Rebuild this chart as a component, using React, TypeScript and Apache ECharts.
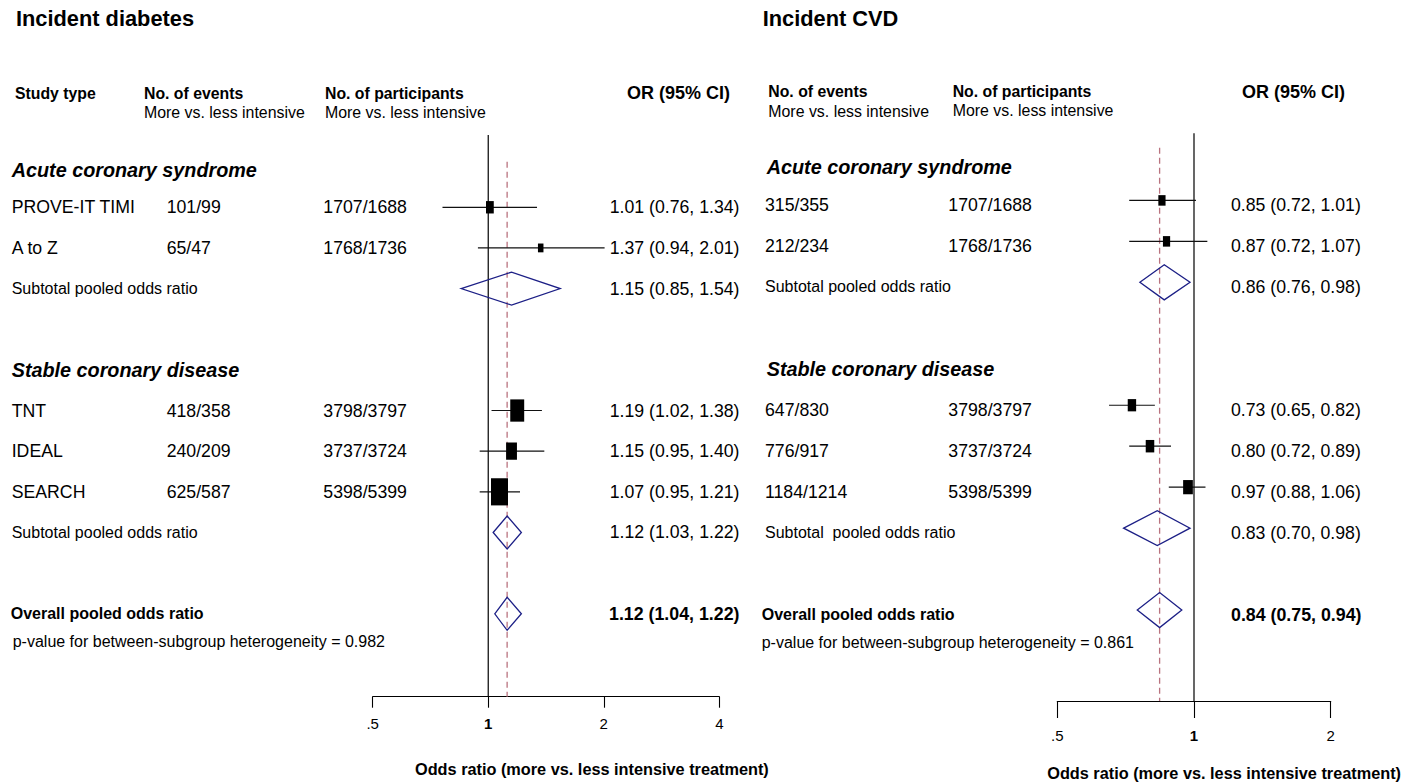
import React, { useEffect, useRef } from "react";
import * as echarts from "echarts";

const FONT = '"Liberation Sans", Arial, Helvetica, sans-serif';

// ---------- data ----------
const studyNames = ["PROVE-IT TIMI", "A to Z", "TNT", "IDEAL", "SEARCH"];
const studyRows = [0, 1, 5, 6, 7];
const participants = ["1707/1688", "1768/1736", "3798/3797", "3737/3724", "5398/5399"];

const subgroupNames = ["Acute coronary syndrome", "Stable coronary disease"];
const subgroupRows = [-0.92, 4];
const pooledRows = [2, 8, 10];
const pValueRow = 10.68;

// Incident diabetes
const diabEvents = ["101/99", "65/47", "418/358", "240/209", "625/587"];
const diabOR = [1.01, 1.37, 1.19, 1.15, 1.07];
const diabLow = [0.76, 0.94, 1.02, 0.95, 0.95];
const diabHigh = [1.34, 2.01, 1.38, 1.4, 1.21];
const diabWeight = [8.7, 4.4, 28.1, 17.0, 41.8];
const diabPooledLabels = ["Subtotal pooled odds ratio", "Subtotal pooled odds ratio", "Overall pooled odds ratio"];
const diabPooledOR = [1.15, 1.12, 1.12];
const diabPooledLow = [0.85, 1.03, 1.04];
const diabPooledHigh = [1.54, 1.22, 1.22];
const diabPValue = "0.982";
const diabTicks = [0.5, 1, 2, 4];

// Incident CVD
const cvdEvents = ["315/355", "212/234", "647/830", "776/917", "1184/1214"];
const cvdOR = [0.85, 0.87, 0.73, 0.8, 0.97];
const cvdLow = [0.72, 0.72, 0.65, 0.72, 0.88];
const cvdHigh = [1.01, 1.07, 0.82, 0.89, 1.06];
const cvdWeight = [15.2, 15.2, 20.6, 21.3, 27.7];
const cvdPooledLabels = ["Subtotal pooled odds ratio", "Subtotal  pooled odds ratio", "Overall pooled odds ratio"];
const cvdPooledOR = [0.86, 0.83, 0.84];
const cvdPooledLow = [0.76, 0.7, 0.75];
const cvdPooledHigh = [0.98, 0.98, 0.94];
const cvdPValue = "0.861";
const cvdTicks = [0.5, 1, 2];

const tickLabel = (v: number) => (Math.abs(v - 0.5) < 1e-6 ? ".5" : String(Math.round(v * 100) / 100));
const fmtCI = (o: number, l: number, h: number) => `${o.toFixed(2)} (${l.toFixed(2)}, ${h.toFixed(2)})`;

// ---------- styles ----------
const fRow = `17.7px ${FONT}`;
const fSub = `16px ${FONT}`;
const fOverall = `bold 16px ${FONT}`;
const fOverallOR = `bold 17.8px ${FONT}`;
const fGroup = `italic bold 19.8px ${FONT}`;
const fHeadB = `bold 15.8px ${FONT}`;
const fHead = `15.9px ${FONT}`;
const fTitle = `bold 21.8px ${FONT}`;
const fAxisTitle = `bold 16.3px ${FONT}`;
const DIAMOND = "#1c1f86";
const DASH = "#b9737f";

function txt(text: string, x: number, y: number, font: string, align: string = "left", fill = "#000") {
  return {
    type: "text",
    x,
    y,
    style: {
      text,
      font,
      fill,
      align,
      verticalAlign: "middle",
      textAlign: align,
      textVerticalAlign: "middle",
    },
  };
}

type Panel = {
  idx: number;
  events: string[];
  or: number[];
  lo: number[];
  hi: number[];
  weight: number[];
  pooledLabels: string[];
  pooledOR: number[];
  pooledLo: number[];
  pooledHi: number[];
  pValue: string;
  showNames: boolean;
  nameX: number;
  eventsX: number;
  partX: number;
  orX: number;
  orAlign: string;
  labelX: number;
  overallX: number;
  groupX: number;
  pX: number;
  textDy: number;
  boxW: number;
  boxH: number;
  half: number;
  dashTop: number;
  yMin: number;
  yMax: number;
};

function panelSeries(p: Panel) {
  const axes = { xAxisIndex: p.idx, yAxisIndex: p.idx, coordinateSystem: "cartesian2d", clip: false, silent: true };

  const rows: { row: number; items: any[] }[] = [];
  studyRows.forEach((r, i) => {
    const items: any[] = [];
    if (p.showNames) items.push({ t: studyNames[i], x: p.nameX, f: fRow, a: "left" });
    items.push({ t: p.events[i], x: p.eventsX, f: fRow, a: "left" });
    items.push({ t: participants[i], x: p.partX, f: fRow, a: "left" });
    items.push({ t: fmtCI(p.or[i], p.lo[i], p.hi[i]), x: p.orX, f: fRow, a: p.orAlign });
    rows.push({ row: r, items });
  });
  pooledRows.forEach((r, j) => {
    const overall = j === pooledRows.length - 1;
    rows.push({
      row: r,
      items: [
        { t: p.pooledLabels[j], x: overall ? p.overallX : p.labelX, f: overall ? fOverall : fSub, a: "left" },
        { t: fmtCI(p.pooledOR[j], p.pooledLo[j], p.pooledHi[j]), x: p.orX, f: overall ? fOverallOR : fRow, a: p.orAlign },
      ],
    });
  });
  subgroupRows.forEach((r, k) => {
    rows.push({ row: r, items: [{ t: subgroupNames[k], x: p.groupX, f: fGroup, a: "left" }] });
  });
  rows.push({
    row: pValueRow,
    items: [{ t: `p-value for between-subgroup heterogeneity = ${p.pValue}`, x: p.pX, f: fSub, a: "left" }],
  });

  const overallOR = p.pooledOR[p.pooledOR.length - 1];

  return [
    {
      type: "custom",
      name: `ref${p.idx}`,
      ...axes,
      data: [[1, p.yMin]],
      z: 1,
      renderItem: (params: any, api: any) => {
        const a = api.coord([1, p.yMin]);
        const b = api.coord([1, p.yMax]);
        const c = api.coord([overallOR, p.dashTop]);
        const d = api.coord([overallOR, p.yMax]);
        return {
          type: "group",
          children: [
            { type: "line", shape: { x1: a[0], y1: a[1], x2: b[0], y2: b[1] }, style: { stroke: "#000", lineWidth: 1.2 } },
            {
              type: "line",
              shape: { x1: c[0], y1: c[1], x2: d[0], y2: d[1] },
              style: { stroke: DASH, lineWidth: 1.3, lineDash: [6, 4] },
            },
          ],
        };
      },
    },
    {
      type: "custom",
      name: `studies${p.idx}`,
      ...axes,
      z: 3,
      data: studyRows.map((r, i) => [p.or[i], p.lo[i], p.hi[i], r, p.weight[i]]),
      encode: { x: [0, 1, 2], y: 3 },
      renderItem: (params: any, api: any) => {
        const row = api.value(3);
        const c = api.coord([api.value(0), row]);
        const l = api.coord([api.value(1), row]);
        const h = api.coord([api.value(2), row]);
        const s = Math.sqrt(api.value(4));
        const w = p.boxW * s;
        const hh = p.boxH * s;
        return {
          type: "group",
          children: [
            { type: "line", shape: { x1: l[0], y1: c[1], x2: h[0], y2: c[1] }, style: { stroke: "#111", lineWidth: 1.2 } },
            { type: "rect", shape: { x: c[0] - w / 2, y: c[1] - hh / 2, width: w, height: hh }, style: { fill: "#000" } },
          ],
        };
      },
    },
    {
      type: "custom",
      name: `pooled${p.idx}`,
      ...axes,
      z: 3,
      data: pooledRows.map((r, j) => [p.pooledOR[j], p.pooledLo[j], p.pooledHi[j], r]),
      encode: { x: [0, 1, 2], y: 3 },
      renderItem: (params: any, api: any) => {
        const row = api.value(3);
        const c = api.coord([api.value(0), row]);
        const l = api.coord([api.value(1), row]);
        const h = api.coord([api.value(2), row]);
        return {
          type: "polygon",
          shape: {
            points: [
              [l[0], c[1]],
              [c[0], c[1] - p.half],
              [h[0], c[1]],
              [c[0], c[1] + p.half],
            ],
          },
          style: { fill: "none", stroke: DIAMOND, lineWidth: 1.3 },
        };
      },
    },
    {
      type: "custom",
      name: `text${p.idx}`,
      ...axes,
      z: 4,
      data: rows.map((r) => [1, r.row]),
      encode: { x: 0, y: 1 },
      renderItem: (params: any, api: any) => {
        const r = rows[params.dataIndex];
        const y = api.coord([1, api.value(1)])[1] + p.textDy;
        return {
          type: "group",
          children: r.items.map((it) => txt(it.t, it.x, y, it.f, it.a)),
        };
      },
    },
  ];
}

function xAxisFor(idx: number, max: number, tickLen: number, margin: number) {
  return {
    type: "log",
    logBase: 2,
    gridIndex: idx,
    min: 0.5,
    max,
    axisLine: { show: true, onZero: false, lineStyle: { color: "#000", width: 1.1 } },
    axisTick: { show: true, inside: false, length: tickLen, lineStyle: { color: "#000", width: 1.1 } },
    minorTick: { show: false },
    splitLine: { show: false },
    axisLabel: {
      margin,
      color: "#000",
      fontSize: 15,
      fontFamily: FONT,
      formatter: (v: number) => (Math.abs(v - 1) < 1e-6 ? "{b|1}" : `{n|${tickLabel(v)}}`),
      rich: {
        b: { fontWeight: "bold", fontSize: 15, fontFamily: FONT, color: "#000" },
        n: { fontWeight: "normal", fontSize: 15, fontFamily: FONT, color: "#000" },
      },
    },
  };
}

function buildOption() {
  const left: Panel = {
    idx: 0,
    events: diabEvents,
    or: diabOR,
    lo: diabLow,
    hi: diabHigh,
    weight: diabWeight,
    pooledLabels: diabPooledLabels,
    pooledOR: diabPooledOR,
    pooledLo: diabPooledLow,
    pooledHi: diabPooledHigh,
    pValue: diabPValue,
    showNames: true,
    nameX: 11.7,
    eventsX: 166.7,
    partX: 323.3,
    orX: 739.5,
    orAlign: "right",
    labelX: 11.7,
    overallX: 10.7,
    groupX: 11.7,
    pX: 12.7,
    textDy: 0,
    boxW: 2.63,
    boxH: 4.2,
    half: 16.5,
    dashTop: -1.122,
    yMin: -1.778,
    yMax: 12.04,
  };
  const right: Panel = {
    idx: 1,
    events: cvdEvents,
    or: cvdOR,
    lo: cvdLow,
    hi: cvdHigh,
    weight: cvdWeight,
    pooledLabels: cvdPooledLabels,
    pooledOR: cvdPooledOR,
    pooledLo: cvdPooledLow,
    pooledHi: cvdPooledHigh,
    pValue: cvdPValue,
    showNames: false,
    nameX: 0,
    eventsX: 765,
    partX: 948.3,
    orX: 1231,
    orAlign: "left",
    labelX: 765,
    overallX: 761.7,
    groupX: 766.7,
    pX: 761.7,
    textDy: 4.5,
    boxW: 1.85,
    boxH: 2.7,
    half: 17.5,
    dashTop: -1.286,
    yMin: -1.638,
    yMax: 12.22,
  };

  const graphics = [
    txt("Incident diabetes", 16, 18.5, fTitle),
    txt("Incident CVD", 762.7, 18.5, fTitle),
    txt("Study type", 15, 93.3, fHeadB),
    txt("No. of events", 144, 93.3, fHeadB),
    txt("More vs. less intensive", 144, 112.3, fHead),
    txt("No. of participants", 325, 93.3, fHeadB),
    txt("More vs. less intensive", 325, 112.3, fHead),
    txt("OR (95% CI)", 730, 93.3, `bold 18px ${FONT}`, "right"),
    txt("No. of events", 768.3, 91.7, fHeadB),
    txt("More vs. less intensive", 768.3, 111, fHead),
    txt("No. of participants", 952.7, 91, fHeadB),
    txt("More vs. less intensive", 952.7, 110, fHead),
    txt("OR (95% CI)", 1345, 92, `bold 18px ${FONT}`, "right"),
    txt("Odds ratio (more vs. less intensive treatment)", 415, 769.3, fAxisTitle, "left"),
    txt("Odds ratio (more vs. less intensive treatment)", 1401, 773.3, fAxisTitle, "right"),
  ];

  return {
    animation: false,
    backgroundColor: "#fff",
    textStyle: { fontFamily: FONT },
    grid: [
      { left: 372.7, top: 135, width: 346.6, height: 561.7, containLabel: false },
      { left: 1057.3, top: 133.3, width: 273.4, height: 567.7, containLabel: false },
    ],
    xAxis: [xAxisFor(0, diabTicks[diabTicks.length - 1], 11, 19), xAxisFor(1, cvdTicks[cvdTicks.length - 1], 17, 27)],
    yAxis: [
      { type: "value", gridIndex: 0, inverse: true, min: left.yMin, max: left.yMax, show: false, splitLine: { show: false } },
      { type: "value", gridIndex: 1, inverse: true, min: right.yMin, max: right.yMax, show: false, splitLine: { show: false } },
    ],
    graphic: { elements: graphics },
    series: [...panelSeries(left), ...panelSeries(right)],
  };
}

export default function App() {
  const ref = useRef<HTMLDivElement>(null);
  useEffect(() => {
    const chart = echarts.init(ref.current as HTMLDivElement, null, { renderer: "svg" });
    chart.setOption(buildOption() as any);
    return () => chart.dispose();
  }, []);
  return (
    <div
      ref={ref}
      style={{ position: "fixed", left: 0, top: 0, width: 1412, height: 783, background: "#fff" }}
    />
  );
}
